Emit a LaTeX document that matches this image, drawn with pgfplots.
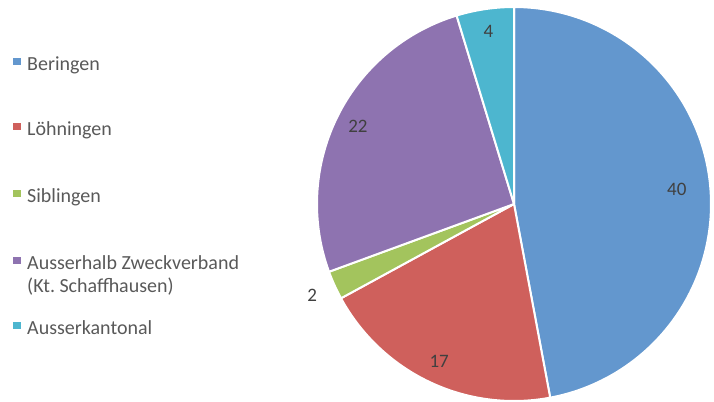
\documentclass[border=0pt]{standalone}
\usepackage{pgfplots}
\pgfplotsset{compat=1.18}
\usepackage{pgfplotstable}
\usepackage{fontspec}
\setmainfont{Carlito}
\frenchspacing
\definecolor{cBer}{HTML}{6397CE}
\definecolor{cLoe}{HTML}{CF605C}
\definecolor{cSib}{HTML}{A3C45D}
\definecolor{cAus}{HTML}{8E73B0}
\definecolor{cKan}{HTML}{4DB6CF}
\definecolor{legtext}{HTML}{595959}
\definecolor{labtext}{HTML}{404040}
\pgfplotstableread{
value
40
17
2
22
4
}\piedata
\pgfplotstablegetelem{0}{value}\of\piedata \edef\vA{\pgfplotsretval}
\pgfplotstablegetelem{1}{value}\of\piedata \edef\vB{\pgfplotsretval}
\pgfplotstablegetelem{2}{value}\of\piedata \edef\vC{\pgfplotsretval}
\pgfplotstablegetelem{3}{value}\of\piedata \edef\vD{\pgfplotsretval}
\pgfplotstablegetelem{4}{value}\of\piedata \edef\vE{\pgfplotsretval}
\pgfmathsetmacro\tot{\vA+\vB+\vC+\vD+\vE}
\pgfmathsetmacro\tA{90}
\pgfmathsetmacro\tB{\tA-360*\vA/\tot}
\pgfmathsetmacro\tC{\tB-360*\vB/\tot}
\pgfmathsetmacro\tD{\tC-360*\vC/\tot}
\pgfmathsetmacro\tE{\tD-360*\vD/\tot}
\pgfmathsetmacro\tF{\tE-360*\vE/\tot}
\def\cx{514}\def\cy{204}\def\R{197}
% label positions
\pgfmathsetmacro\mA{(\tA+\tB)/2}\pgfmathsetmacro\lxA{\cx+0.83*\R*cos(\mA)}\pgfmathsetmacro\lyA{\cy-0.83*\R*sin(\mA)}
\pgfmathsetmacro\mB{(\tB+\tC)/2}\pgfmathsetmacro\lxB{\cx+0.885*\R*cos(\mB)}\pgfmathsetmacro\lyB{\cy-0.885*\R*sin(\mB)}
\pgfmathsetmacro\mC{(\tC+\tD)/2}\pgfmathsetmacro\lxC{\cx+1.125*\R*cos(\mC)}\pgfmathsetmacro\lyC{\cy-1.125*\R*sin(\mC)}
\pgfmathsetmacro\mD{(\tD+\tE)/2}\pgfmathsetmacro\lxD{\cx+0.885*\R*cos(\mD)}\pgfmathsetmacro\lyD{\cy-0.885*\R*sin(\mD)}
\pgfmathsetmacro\mE{(\tE+\tF)/2}\pgfmathsetmacro\lxE{\cx+0.885*\R*cos(\mE)}\pgfmathsetmacro\lyE{\cy-0.885*\R*sin(\mE)}
\begin{document}
\begin{tikzpicture}
\begin{axis}[
  width=714pt, height=401pt, scale only axis,
  xmin=0, xmax=714, ymin=0, ymax=401, y dir=reverse,
  hide axis, clip=false,
]
\path (axis cs:0,0) rectangle (axis cs:714,401);
\pgfplotsset{slice/.style={draw=white, line width=2pt, line join=round, samples=120, variable=\t}}
\addplot[slice, fill=cBer, domain=\tB:\tA] ({\cx+\R*cos(\t)},{\cy-\R*sin(\t)}) -- (axis cs:\cx,\cy) -- cycle;
\addplot[slice, fill=cLoe, domain=\tC:\tB] ({\cx+\R*cos(\t)},{\cy-\R*sin(\t)}) -- (axis cs:\cx,\cy) -- cycle;
\addplot[slice, fill=cSib, domain=\tD:\tC] ({\cx+\R*cos(\t)},{\cy-\R*sin(\t)}) -- (axis cs:\cx,\cy) -- cycle;
\addplot[slice, fill=cAus, domain=\tE:\tD] ({\cx+\R*cos(\t)},{\cy-\R*sin(\t)}) -- (axis cs:\cx,\cy) -- cycle;
\addplot[slice, fill=cKan, domain=\tF:\tE] ({\cx+\R*cos(\t)},{\cy-\R*sin(\t)}) -- (axis cs:\cx,\cy) -- cycle;
% data labels
\begin{scope}[every node/.style={text=labtext, font=\fontsize{19}{22}\selectfont, inner sep=0pt}]
\node at (axis cs:\lxA,\lyA) {\vA};
\node at (axis cs:\lxB,\lyB) {\vB};
\node at (axis cs:\lxC,\lyC) {\vC};
\node at (axis cs:\lxD,\lyD) {\vD};
\node at (axis cs:\lxE,\lyE) {\vE};
\end{scope}
% legend
\begin{scope}[every node/.style={text=legtext, font=\fontsize{20}{24}\selectfont, inner sep=0pt, anchor=base west, align=left}]
\fill[cBer] (axis cs:13,58) rectangle (axis cs:21,65);
\node at (axis cs:27,70) {Beringen};
\fill[cLoe] (axis cs:13,123) rectangle (axis cs:21,130);
\node at (axis cs:27,135) {Löhningen};
\fill[cSib] (axis cs:13,190) rectangle (axis cs:21,197);
\node at (axis cs:27,202) {Siblingen};
\fill[cAus] (axis cs:13,257) rectangle (axis cs:21,264);
\node at (axis cs:27,269) {Ausserhalb Zweckverband};
\node at (axis cs:27,292) {(Kt.\ Schaffhausen)};
\fill[cKan] (axis cs:13,322) rectangle (axis cs:21,329);
\node at (axis cs:27,334) {Ausserkantonal};
\end{scope}
\end{axis}
\end{tikzpicture}
\end{document}
